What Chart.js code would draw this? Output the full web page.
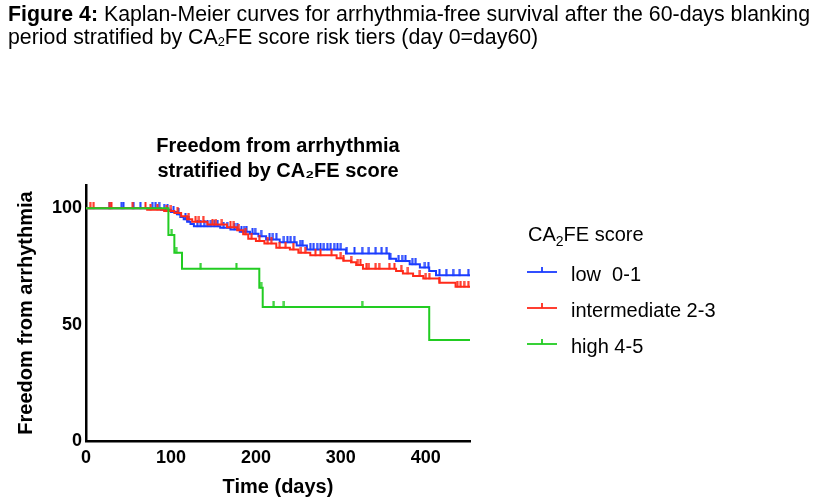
<!DOCTYPE html>
<html><head><meta charset="utf-8">
<script src="https://cdn.jsdelivr.net/npm/chart.js@4.4.0/dist/chart.umd.min.js"></script>
<style>
html,body{margin:0;padding:0;background:#fff;width:818px;height:504px;overflow:hidden;}
#wrap{position:absolute;left:0;top:0;width:818px;height:504px;}
#cap{position:absolute;left:8px;top:3px;font-family:"Liberation Sans Narrow","Arial Narrow","Liberation Sans",Arial,sans-serif;font-size:21.5px;line-height:22.5px;color:#000;white-space:nowrap;transform-origin:0 0;}
#cap sub{font-size:13px;vertical-align:-2px;line-height:0;}
</style></head><body>
<div id="wrap"><canvas id="c" width="818" height="504"></canvas></div>
<div id="cap"><span id="l1"><b>Figure 4:</b> Kaplan-Meier curves for arrhythmia-free survival after the 60-days blanking</span><br><span>period stratified by CA<sub>2</sub>FE score risk tiers (day 0=day60)</span></div>
<script>
// ---- data ----
const seriesNames = ['low  0-1', 'intermediate 2-3', 'high 4-5'];
const xTicks = [0, 100, 200, 300, 400];
const yTicks = [0, 50, 100];
const xMax = 452, yMax = 110;

// low 0-1 : event times and survival after each step
const lowTimes = [0, 88, 100, 107, 111, 115, 119, 123, 127, 158, 170, 181, 193, 203, 212, 228, 248, 260, 306, 357, 365, 381, 393, 404, 412, 452];
const lowSurv  = [100, 99.4, 98.4, 97.4, 96.3, 95.3, 94.2, 93.2, 92.3, 91.6, 90.9, 89.9, 89.0, 88.0, 86.6, 85.4, 84.0, 82.3, 80.6, 78.3, 77.3, 75.9, 74.5, 73.0, 71.2, 71.2];
const lowCensor = [28, 42, 44, 56, 64, 78, 82, 86, 92, 96, 103, 109, 117, 121, 131, 135, 139, 143, 147, 151, 155, 162, 166, 175, 178, 183, 186, 189, 196, 199, 206, 216, 220, 224, 233, 237, 241, 245, 252, 255, 264, 268, 272, 276, 280, 284, 288, 292, 296, 300, 307, 316, 325, 333, 341, 348, 354, 358, 368, 372, 376, 384, 388, 399, 403, 416, 424, 432, 440, 450];

// intermediate 2-3
const midTimes = [0, 72, 92, 104, 112, 119, 125, 143, 166, 178, 185, 191, 200, 210, 224, 240, 250, 264, 295, 303, 312, 318, 326, 365, 373, 385, 397, 416, 435, 452];
const midSurv  = [100, 99.4, 98.8, 98.0, 96.6, 95.3, 94.2, 93.0, 91.8, 90.6, 88.8, 86.9, 85.9, 84.9, 83.0, 82.3, 80.9, 79.8, 78.5, 77.5, 76.8, 75.6, 74.0, 73.0, 72.0, 70.9, 69.8, 68.0, 66.3, 66.3];
const midCensor = [5, 9, 28, 30, 55, 70, 76, 84, 95, 100, 108, 121, 129, 133, 138, 149, 153, 160, 170, 174, 180, 188, 195, 204, 214, 218, 228, 235, 244, 253, 258, 270, 276, 289, 300, 303, 312, 320, 323, 330, 333, 341, 345, 357, 363, 371, 379, 393, 400, 404, 416, 437, 441, 445, 450];

// high 4-5
const highTimes = [0, 97, 104, 113, 204, 208, 404, 452];
const highSurv  = [100, 88.5, 80.9, 74.0, 65.9, 57.6, 43.4, 43.4];
const highCensor = [101, 106, 135, 177, 206, 221, 233, 325];

const colors = ['#1a3cff', '#ff2a1a', '#22cc22'];

// ---- helpers ----
function toPts(times, surv) { return times.map((t, i) => ({ x: t, y: surv[i] })); }
function survAt(times, surv, t) { let s = surv[0]; for (let i = 0; i < times.length; i++) { if (times[i] <= t) s = surv[i]; } return s; }
function censorPts(ct, times, surv) { return ct.map(t => ({ x: t, y: survAt(times, surv, t) })); }
function tickImg(color) {
  const c = document.createElement('canvas'); c.width = 3; c.height = 12;
  const g = c.getContext('2d'); g.fillStyle = color; g.fillRect(0.5, 0, 2, 6.5); return c;
}

const groups = [
  [lowTimes, lowSurv, lowCensor],
  [midTimes, midSurv, midCensor],
  [highTimes, highSurv, highCensor]
];
const datasets = [];
groups.forEach((g, i) => {
  datasets.push({ label: seriesNames[i], data: toPts(g[0], g[1]), stepped: true, borderColor: colors[i], borderWidth: 2, pointRadius: 0, fill: false, order: 3 - i });
  datasets.push({ label: seriesNames[i] + ' censored', data: censorPts(g[2], g[0], g[1]), showLine: false, pointStyle: tickImg(colors[i]), pointRadius: 3, borderColor: colors[i], backgroundColor: colors[i], order: 3 - i });
});

const FONT = '"Liberation Sans", Arial, Helvetica, sans-serif';

const legendPlugin = {
  id: 'kmLegend',
  afterDraw(chart) {
    const ctx = chart.ctx;
    ctx.save();
    ctx.fillStyle = '#000';
    ctx.textBaseline = 'alphabetic';
    ctx.textAlign = 'left';
    let x = 528, y = 241;
    ctx.font = '20px ' + FONT;
    ctx.fillText('CA', x, y); x += ctx.measureText('CA').width;
    ctx.font = '14px ' + FONT;
    ctx.fillText('2', x, y + 5); x += ctx.measureText('2').width;
    ctx.font = '20px ' + FONT;
    ctx.fillText('FE score', x, y);
    const symY = [272, 308, 344];
    const txtY = [281, 317, 353];
    seriesNames.forEach((n, i) => {
      ctx.strokeStyle = colors[i];
      ctx.lineWidth = 1.8;
      ctx.beginPath(); ctx.moveTo(527, symY[i]); ctx.lineTo(557, symY[i]); ctx.stroke();
      ctx.beginPath(); ctx.moveTo(542, symY[i]); ctx.lineTo(542, symY[i] - 5); ctx.stroke();
      ctx.fillStyle = '#000';
      ctx.font = '20px ' + FONT;
      ctx.fillText(n, 571, txtY[i]);
    });
    ctx.restore();
  }
};

new Chart(document.getElementById('c'), {
  type: 'line',
  data: { datasets },
  plugins: [legendPlugin],
  options: {
    responsive: false,
    animation: false,
    layout: { padding: { top: 134, right: 348, bottom: 0, left: 0 } },
    plugins: {
      legend: { display: false },
      tooltip: { enabled: false },
      title: {
        display: true, fullSize: false,
        text: ['Freedom from arrhythmia', 'stratified by CA\u2082FE score'],
        color: '#000',
        font: { family: FONT, size: 20, weight: 'bold', lineHeight: 1.25 },
        padding: { top: 0, bottom: 1 }
      }
    },
    scales: {
      x: {
        type: 'linear', min: 0, max: xMax,
        afterBuildTicks: a => { a.ticks = xTicks.map(v => ({ value: v })); },
        afterFit: s => { s.height = 63; },
        grid: { display: false, drawTicks: false },
        border: { display: true, color: '#000', width: 2.5 },
        ticks: { color: '#000', padding: 6, font: { family: FONT, size: 18, weight: 'bold' }, maxRotation: 0 },
        title: { display: true, text: 'Time (days)', color: '#000', font: { family: FONT, size: 20, weight: 'bold' }, padding: { top: 0, bottom: 5 } }
      },
      y: {
        type: 'linear', min: 0, max: yMax,
        afterBuildTicks: a => { a.ticks = yTicks.map(v => ({ value: v })); },
        afterFit: s => { s.width = 86; },
        grid: { display: false, drawTicks: false },
        border: { display: true, color: '#000', width: 2.5 },
        ticks: { color: '#000', padding: 4, font: { family: FONT, size: 18, weight: 'bold' } },
        title: { display: true, text: 'Freedom from arrhythmia', color: '#000', font: { family: FONT, size: 20, weight: 'bold' }, padding: { top: 14, bottom: 0 } }
      }
    }
  }
});

// fit caption first line to the reference width
(function () {
  const cap = document.getElementById('cap');
  const w = document.getElementById('l1').getBoundingClientRect().width;
  if (w > 0) cap.style.transform = 'scaleX(' + (802 / w) + ')';
})();
</script>
</body></html>
